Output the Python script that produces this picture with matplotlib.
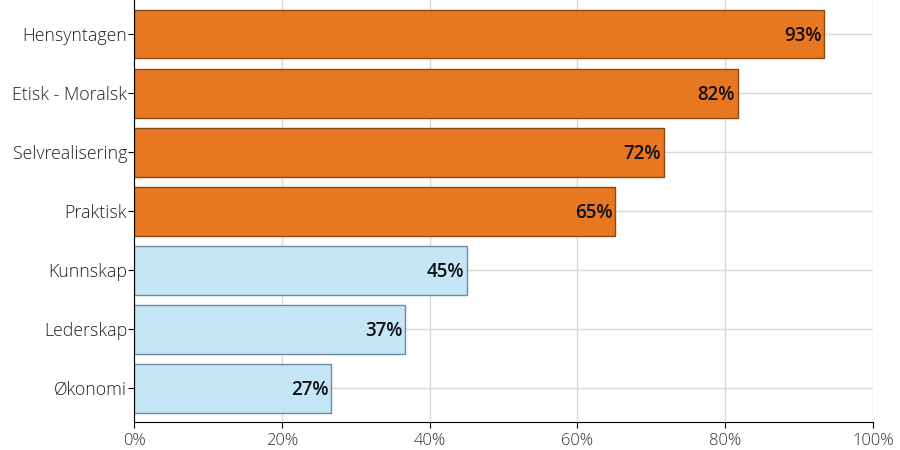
import matplotlib
matplotlib.use("Agg")
import matplotlib.pyplot as plt
from matplotlib.ticker import FuncFormatter

categories = ["Hensyntagen", "Etisk - Moralsk", "Selvrealisering", "Praktisk",
              "Kunnskap", "Lederskap", "Økonomi"]
values = [0.934, 0.817, 0.717, 0.651, 0.451, 0.367, 0.267]
labels = ["93%", "82%", "72%", "65%", "45%", "37%", "27%"]
groups = ["high", "high", "high", "high", "low", "low", "low"]

face = {"high": "#E87722", "low": "#C5E6F7"}
edge = {"high": "#8A4A14", "low": "#6E8A9C"}

plt.rcParams['font.family'] = ['Open Sans', 'DejaVu Sans']

fig = plt.figure(figsize=(9, 4.5), dpi=100)
ax = fig.add_axes([0.149, 0.062, 0.821, 0.938])

n = len(categories)
ypos = list(range(n - 1, -1, -1))
for y, v, g, lab in zip(ypos, values, groups, labels):
    ax.barh(y, v, height=0.83, color=face[g], edgecolor=edge[g], linewidth=1, zorder=3)
    ax.text(v - 0.004, y - 0.04, lab, ha="right", va="center", fontsize=13.5,
            fontweight="semibold", color="#111111", zorder=4)

ax.set_yticks(ypos)
ax.set_yticklabels(categories, fontsize=12.8, color="#222222", fontweight="light")
ax.set_xlim(0, 1.0)
ax.set_ylim(-0.576, n - 1 + 0.576)
ax.set_xticks([0, 0.2, 0.4, 0.6, 0.8, 1.0])
ax.xaxis.set_major_formatter(FuncFormatter(lambda x, p: f"{x*100:.0f}%"))
ax.tick_params(axis="x", labelsize=12, labelcolor="#333333", length=4, color="black")
ax.tick_params(axis="y", length=4, color="black", pad=1)
for lbl in ax.get_xticklabels():
    lbl.set_fontweight("light")
ax.grid(True, color="#DADADA", linewidth=1, zorder=0)
ax.set_axisbelow(True)
for s in ["top", "right"]:
    ax.spines[s].set_visible(False)
ax.spines["left"].set_color("black")
ax.spines["bottom"].set_color("black")
ax.spines["left"].set_zorder(5)

fig.savefig("out.png", dpi=100)
